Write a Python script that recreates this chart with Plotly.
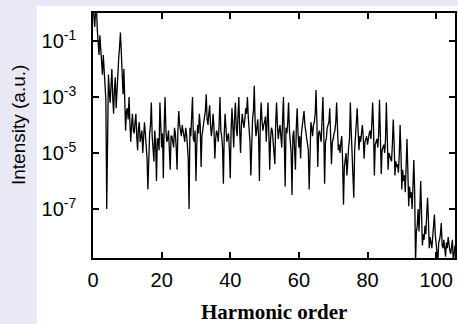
import plotly.graph_objects as go

# log10 of intensity (a.u.) at each half harmonic order (0, 0.5, ..., 105.5)
log_half = [
    0.3, -0.5, 0.2, -1.2, -0.8, -1.8, -1.5, -2.6, -7.0, -2.2,      # 0 - 4.5
    -3.2, -2.0, -3.6, -2.3, -2.6, -1.6, -0.7, -2.5, -2.0, -4.2,    # 5 - 9.5
    -3.4, -3.0, -4.6, -3.6, -4.3, -3.6, -4.9, -3.9, -4.4, -5.0,    # 10 - 14.5
    -3.9, -4.7, -6.3, -4.3, -3.2, -4.9, -4.2, -6.0, -4.5, -3.2,    # 15 - 19.5
    -4.8, -5.9, -3.0, -4.6, -4.2, -5.6, -4.4, -4.8, -4.3, -5.6,    # 20 - 24.5
    -3.5, -4.3, -4.0, -4.5, -4.1, -4.7, -7.0, -4.4, -3.0, -4.6,    # 25 - 29.5
    -6.0, -4.0, -3.6, -5.5, -4.1, -3.7, -2.9, -4.0, -3.3, -4.4,    # 30 - 34.5
    -3.6, -5.2, -4.2, -4.6, -3.0, -4.4, -6.1, -3.6, -4.6, -4.3,    # 35 - 39.5
    -5.9, -3.4, -4.8, -3.2, -4.4, -3.0, -5.0, -3.6, -4.1, -3.4,    # 40 - 44.5
    -3.0, -4.2, -5.8, -3.8, -2.6, -4.4, -3.8, -6.0, -3.2, -4.2,    # 45 - 49.5
    -3.9, -4.6, -3.2, -5.6, -4.1, -4.6, -5.4, -3.2, -4.5, -4.0,    # 50 - 54.5
    -4.8, -3.0, -6.2, -4.3, -3.2, -4.7, -6.5, -4.2, -5.6, -3.4,    # 55 - 59.5
    -4.8, -5.2, -4.0, -3.5, -4.2, -4.6, -6.3, -3.9, -4.4, -3.9,    # 60 - 64.5
    -2.75, -5.5, -4.2, -4.6, -3.0, -6.1, -4.5, -4.0, -3.4, -5.4,   # 65 - 69.5
    -4.5, -4.2, -3.2, -4.9, -5.0, -4.4, -6.85, -5.2, -5.8, -4.8,   # 70 - 74.5
    -3.2, -5.0, -6.6, -4.3, -3.4, -4.9, -4.6, -4.0, -5.2, -4.5,    # 75 - 79.5
    -4.7, -4.3, -4.5, -3.2, -5.8, -4.6, -4.8, -3.1, -5.75, -4.8,   # 80 - 84.5
    -5.0, -3.2, -5.6, -5.1, -5.3, -3.8, -5.8, -5.5, -5.7, -4.0,    # 85 - 89.5
    -6.3, -6.0, -6.4, -4.5, -6.9, -6.6, -7.0, -5.25, -8.9, -7.6,   # 90 - 94.5
    -7.8, -6.0, -8.3, -8.1, -7.9, -6.6, -8.4, -8.2, -8.0, -7.2,    # 95 - 99.5
    -8.3, -8.9, -8.1, -7.5, -8.4, -8.6, -8.2, -8.0, -8.5, -8.2,    # 100 - 104.5
    -8.9, -8.3,                                                    # 105 - 105.5
]

# log10 of intensity read at the quarter orders in between (0.25, 0.75, ..., 105.25)
log_quarter = [
    -0.2, 0.1, -0.6, -1.5, -1.3, -2.2, -2.0, -3.1, -3.3, -2.8,     # 0.25 - 4.75
    -2.6, -3.0, -2.7, -3.4, -2.1, -1.2, -1.4, -2.9, -3.3, -3.5,    # 5.25 - 9.75
    -3.8, -3.9, -4.0, -4.2, -3.9, -4.4, -4.1, -4.6, -4.2, -4.5,    # 10.25 - 14.75
    -4.3, -5.2, -4.6, -4.0, -4.4, -5.3, -4.7, -4.5, -4.9, -4.1,    # 15.25 - 19.75
    -4.3, -4.0, -4.2, -4.5, -4.9, -4.4, -4.6, -4.1, -4.8, -4.2,    # 20.25 - 24.75
    -4.0, -4.4, -4.2, -4.6, -4.3, -5.2, -4.1, -3.8, -4.5, -4.2,    # 25.25 - 29.75
    -4.7, -4.3, -4.0, -4.4, -3.9, -3.5, -3.8, -3.6, -4.0, -4.1,    # 30.25 - 34.75
    -4.1, -4.5, -4.3, -4.0, -4.2, -4.8, -4.3, -4.1, -4.4, -4.9,    # 35.25 - 39.75
    -4.2, -4.0, -3.8, -4.1, -3.7, -4.2, -4.0, -3.9, -3.8, -3.6,    # 40.25 - 44.75
    -3.7, -4.6, -4.3, -3.5, -3.9, -4.1, -4.4, -4.0, -3.8, -4.0,    # 45.25 - 49.75
    -3.7, -3.9, -4.3, -4.5, -4.2, -4.8, -3.9, -4.0, -4.2, -4.4,    # 50.25 - 54.75
    -3.8, -4.5, -4.1, -3.9, -4.2, -5.0, -4.4, -4.8, -4.1, -4.3,    # 55.25 - 59.75
    -4.4, -4.3, -3.9, -4.0, -4.5, -4.9, -4.2, -4.1, -4.0, -3.6,    # 60.25 - 64.75
    -3.9, -4.3, -4.4, -3.8, -4.2, -4.6, -4.1, -3.9, -4.3, -4.6,    # 65.25 - 69.75
    -4.3, -3.9, -4.1, -4.7, -4.6, -5.3, -5.5, -5.0, -5.0, -4.5,    # 70.25 - 74.75
    -4.2, -5.4, -4.9, -3.9, -4.2, -4.4, -4.3, -4.4, -4.6, -4.4,    # 75.25 - 79.75
    -4.4, -4.2, -4.0, -4.1, -4.7, -4.5, -4.3, -4.2, -4.9, -4.7,    # 80.25 - 84.75
    -4.5, -4.4, -5.0, -5.2, -4.7, -4.6, -5.3, -5.4, -5.1, -5.0,    # 85.25 - 89.75
    -5.6, -5.8, -5.5, -5.6, -6.2, -6.4, -6.2, -6.4, -7.8, -7.0,    # 90.25 - 94.75
    -7.0, -7.2, -7.9, -7.6, -7.2, -7.4, -8.0, -8.4, -7.6, -7.9,    # 95.25 - 99.75
    -8.6, -8.2, -7.9, -8.3, -8.1, -8.7, -8.4, -8.3, -8.6, -8.1,    # 100.25 - 104.75
    -8.4,                                                          # 105.25
]

# merge the two sample sets in order of harmonic
harmonic, intensity = [], []
for i, v in enumerate(log_half):
    harmonic.append(i / 2)
    intensity.append(10 ** v)
    if i < len(log_quarter):
        harmonic.append(i / 2 + 0.25)
        intensity.append(10 ** log_quarter[i])

x_tickvals = [0, 20, 40, 60, 80, 100]
y_tickvals = [1e-7, 1e-5, 1e-3, 1e-1]
y_ticktext = ["10<sup>-7</sup>", "10<sup>-5</sup>", "10<sup>-3</sup>", "10<sup>-1</sup>"]

W, H = 458, 324
L, R, T, B = 93, 1, 13, 66
pw, ph = W - L - R, H - T - B

fig = go.Figure()
fig.add_trace(go.Scatter(x=harmonic, y=intensity, mode="lines",
                         line=dict(color="black", width=1.3), showlegend=False))

axis_common = dict(showline=True, linecolor="black", linewidth=1.5, mirror="ticks",
                   ticks="inside", ticklen=6, tickwidth=1.5, tickcolor="black",
                   showgrid=False, zeroline=False,
                   tickfont=dict(family="Liberation Sans, Arial", size=20, color="black"))

fig.update_xaxes(range=[0, 105.5], tickvals=x_tickvals, ticklabelstandoff=3, **axis_common)
fig.update_yaxes(type="log", range=[-8.75, 0], tickvals=y_tickvals, ticktext=y_ticktext,
                 ticklabelstandoff=11, **axis_common)

lav = "#e9e9f5"
fig.update_layout(
    width=W, height=H,
    margin=dict(l=L, r=R, t=T, b=B, pad=0),
    paper_bgcolor=lav, plot_bgcolor="white",
    shapes=[dict(type="rect", xref="paper", yref="paper", layer="below",
                 x0=(36.5 - L) / pw, x1=1 + 5 / pw,
                 y0=-(B + 5) / ph, y1=1 + (T - 6) / ph,
                 fillcolor="white", line=dict(width=0))],
    annotations=[
        dict(text="<b>Harmonic order</b>", xref="paper", yref="paper", x=0.5, y=0,
             yshift=-54, showarrow=False, xanchor="center", yanchor="middle",
             font=dict(family="Liberation Serif, Times New Roman", size=21, color="black")),
        dict(text="Intensity (a.u.)", xref="paper", yref="paper", x=0, xshift=-(L - 18),
             y=(H - B - 125) / ph, textangle=-90, showarrow=False,
             xanchor="center", yanchor="middle",
             font=dict(family="Liberation Sans, Arial", size=19, color="black")),
    ],
)

fig.write_html("out.html")
